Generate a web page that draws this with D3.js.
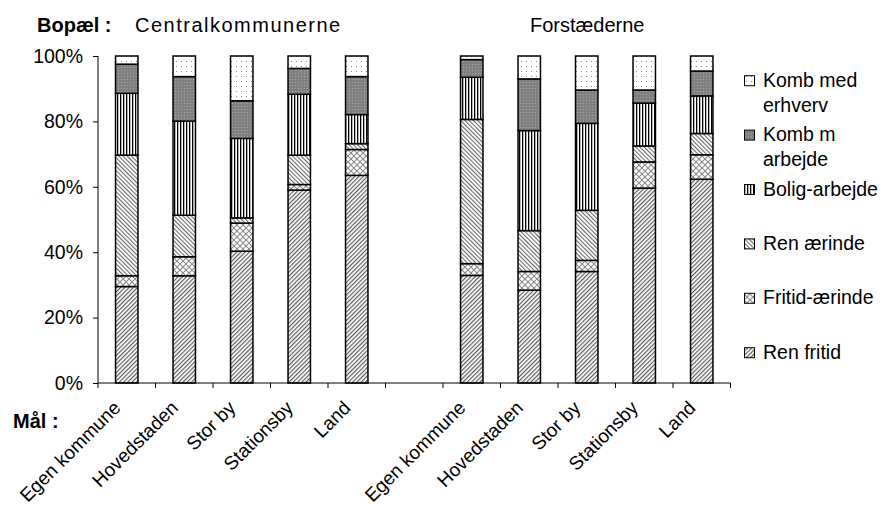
<!DOCTYPE html>
<html><head><meta charset="utf-8">
<script src="https://cdn.jsdelivr.net/npm/d3@7"></script>
<style>
body{margin:0;background:#fff;}
text{font-family:"Liberation Sans",Arial,sans-serif;fill:#000;}
</style></head>
<body>
<svg id="c" width="881" height="508"></svg>
<script>
const groups = ["Centralkommunerne", "Forstæderne"];
const categories = ["Egen kommune", "Hovedstaden", "Stor by", "Stationsby", "Land"];
const seriesNames = ["Ren fritid", "Fritid-ærinde", "Ren ærinde", "Bolig-arbejde", "Komb m arbejde", "Komb med erhverv"];
const legendLabels = [["Komb med", "erhverv"], ["Komb m", "arbejde"], ["Bolig-arbejde"], ["Ren ærinde"], ["Fritid-ærinde"], ["Ren fritid"]];
const yTicks = [0, 20, 40, 60, 80, 100];

// values in %, per group, in category order
const renFritid     = {Centralkommunerne: [29.5, 32.8, 40.3, 59.0, 63.5], "Forstæderne": [32.9, 28.4, 34.1, 59.6, 62.3]};
const fritidAerinde = {Centralkommunerne: [3.3, 5.8, 8.6, 1.7, 7.9],      "Forstæderne": [3.6, 5.7, 3.4, 8.0, 7.5]};
const renAerinde    = {Centralkommunerne: [36.9, 12.7, 1.6, 9.0, 1.8],    "Forstæderne": [44.1, 12.5, 15.3, 4.9, 6.5]};
const boligArbejde  = {Centralkommunerne: [18.9, 28.8, 24.3, 18.6, 8.9],  "Forstæderne": [12.9, 30.6, 26.6, 13.1, 11.5]};
const kombArbejde   = {Centralkommunerne: [8.9, 13.6, 11.5, 7.9, 11.6],   "Forstæderne": [5.4, 15.8, 10.2, 4.0, 7.6]};
const kombErhverv   = {Centralkommunerne: [2.5, 6.3, 13.7, 3.8, 6.3],     "Forstæderne": [1.1, 7.0, 10.4, 10.4, 4.6]};
const seriesData = [renFritid, fritidAerinde, renAerinde, boligArbejde, kombArbejde, kombErhverv];

// build rows: group A categories, a gap slot, group B categories
const rows = [];
groups.forEach((g, gi) => {
  categories.forEach((c, ci) => {
    const r = {key: g + "|" + c, cat: c, group: g};
    seriesNames.forEach((s, si) => r[s] = seriesData[si][g][ci]);
    rows.push(r);
  });
  if (gi === 0) rows.push({key: "gap", cat: "", group: ""});
});

const svg = d3.select("#c");
const x0 = 98, x1 = 730.5, yTop = 56, yBot = 383;
const x = d3.scaleBand().domain(rows.map(d => d.key)).range([x0, x1]).padding(0);
const y = d3.scaleLinear().domain([0, 100]).range([yBot, yTop]);
const barW = x.bandwidth() * 0.39;

// patterns
const defs = svg.append("defs");
function pat(id, w, h, build, rot) {
  const p = defs.append("pattern").attr("id", id).attr("patternUnits", "userSpaceOnUse").attr("width", w).attr("height", h);
  if (rot) p.attr("patternTransform", "rotate(" + rot + ")");
  build(p);
}
pat("p0", 3, 3, p => { p.append("rect").attr("width", 3).attr("height", 3).attr("fill", "#fff");
  p.append("rect").attr("width", 1.2).attr("height", 3).attr("fill", "#5a5a5a"); }, 45);
pat("p1", 6, 6, p => { p.append("rect").attr("width", 6).attr("height", 6).attr("fill", "#fff");
  p.append("path").attr("d", "M0,0L6,6M6,0L0,6").attr("stroke", "#8a8a8a").attr("stroke-width", 1.1); });
pat("p2", 3, 3, p => { p.append("rect").attr("width", 3).attr("height", 3).attr("fill", "#fff");
  p.append("rect").attr("width", 1.1).attr("height", 3).attr("fill", "#6a6a6a"); }, -45);
pat("p3", 3, 3, p => { p.append("rect").attr("width", 3).attr("height", 3).attr("fill", "#fff");
  p.append("rect").attr("width", 1.3).attr("height", 3).attr("fill", "#000"); });
pat("p4", 3, 3, p => { p.append("rect").attr("width", 3).attr("height", 3).attr("fill", "#808080");
  p.append("rect").attr("x", 1).attr("y", 1).attr("width", 1).attr("height", 1).attr("fill", "#a4a4a4"); });
pat("p5", 5, 5, p => { p.append("rect").attr("width", 5).attr("height", 5).attr("fill", "#fff");
  p.append("rect").attr("x", 1).attr("y", 1).attr("width", 1).attr("height", 1).attr("fill", "#8a8a8a"); });
const fills = ["url(#p0)", "url(#p1)", "url(#p2)", "url(#p3)", "url(#p4)", "url(#p5)"];

// stacked bars
const dataRows = rows.filter(d => d.key !== "gap");
const stack = d3.stack().keys(seriesNames)(dataRows);
stack.forEach((layer, li) => {
  svg.append("g").selectAll("rect").data(layer).join("rect")
    .attr("x", d => x(d.data.key) + (x.bandwidth() - barW) / 2)
    .attr("y", d => y(d[1]))
    .attr("width", barW)
    .attr("height", d => y(d[0]) - y(d[1]))
    .attr("fill", fills[li])
    .attr("stroke", "#000")
    .attr("stroke-width", 1.5);
});

// y axis
const yAxis = d3.axisLeft(y).tickValues(yTicks).tickFormat(d => d + "%").tickSize(5).tickPadding(10);
const gy = svg.append("g").attr("transform", `translate(${x0},0)`).call(yAxis);
gy.select(".domain").attr("stroke", "#000").attr("d", `M0,${yTop}V${yBot}`);
gy.selectAll(".tick line").attr("stroke", "#000");
gy.selectAll(".tick text").attr("font-size", "19.5px").attr("font-family", "Liberation Sans, Arial, sans-serif");

// x axis (ticks at category boundaries)
const bounds = rows.map(d => x(d.key)).concat([x1]);
const gx = svg.append("g");
gx.append("line").attr("x1", x0).attr("x2", x1).attr("y1", yBot).attr("y2", yBot).attr("stroke", "#000");
gx.selectAll("line.t").data(bounds).join("line").attr("class", "t")
  .attr("x1", d => d).attr("x2", d => d).attr("y1", yBot).attr("y2", yBot + 5).attr("stroke", "#000");
gx.selectAll("text").data(dataRows).join("text")
  .attr("transform", d => `translate(${x(d.key) + x.bandwidth() / 2 - 5},${yBot + 26}) rotate(-45)`)
  .attr("text-anchor", "end")
  .attr("font-size", "19px")
  .text(d => d.cat);

// titles
svg.append("text").attr("x", 37).attr("y", 31.5).attr("font-size", "20px").attr("font-weight", "bold").text("Bopæl :");
svg.append("text").attr("x", 135).attr("y", 31.5).attr("font-size", "20px").attr("letter-spacing", "1.5px").text(groups[0]);
svg.append("text").attr("x", 530).attr("y", 31.5).attr("font-size", "20px").text(groups[1]);
svg.append("text").attr("x", 13).attr("y", 428).attr("font-size", "20px").attr("font-weight", "bold").text("Mål :");

// legend (top to bottom: reverse of stack order)
const legendFills = fills.slice().reverse();
const lg = svg.append("g");
legendLabels.forEach((lines, i) => {
  const cy = 80.7 + i * 54.4;
  lg.append("rect").attr("x", 744.5).attr("y", cy - 5).attr("width", 10).attr("height", 10)
    .attr("fill", legendFills[i]).attr("stroke", "#000").attr("stroke-width", 1);
  lines.forEach((t, j) => {
    lg.append("text").attr("x", 763).attr("y", cy + 6 + j * 25).attr("font-size", "19.5px").text(t);
  });
});
</script>
</body></html>
